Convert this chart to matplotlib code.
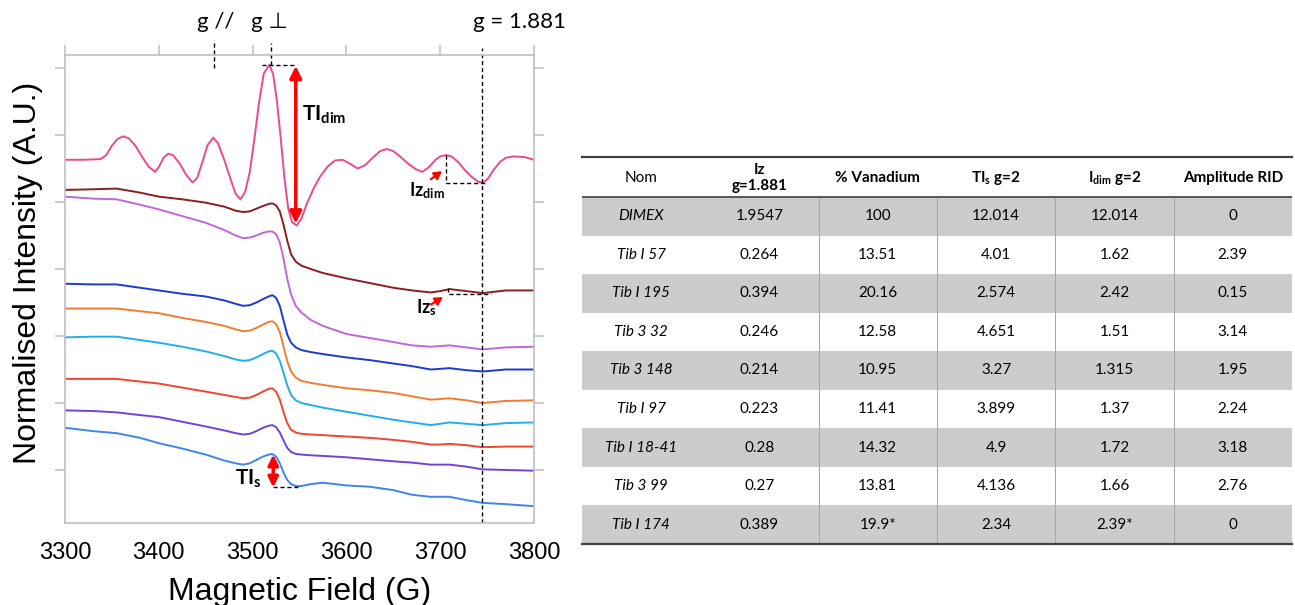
import numpy as np
import matplotlib
matplotlib.use("Agg")
import matplotlib.pyplot as plt
from matplotlib.patches import Rectangle

plt.rcParams['font.family'] = ['Liberation Sans', 'DejaVu Sans']
plt.rcParams['mathtext.fontset'] = 'custom'
plt.rcParams['mathtext.rm'] = 'Lato'
plt.rcParams['mathtext.it'] = 'Lato:italic'
plt.rcParams['mathtext.bf'] = 'Lato:bold'

# ---------------- spectra data ----------------
field = [3300, 3330, 3355, 3380, 3400, 3425, 3450, 3470, 3482, 3490, 3497, 3504, 3511,
         3517, 3521, 3525, 3529, 3533, 3537, 3541, 3546, 3552, 3562, 3575, 3600, 3625,
         3650, 3670, 3690, 3700, 3710, 3728, 3745, 3770, 3800]

brown = [5.18, 5.19, 5.20, 5.14, 5.08, 5.04, 4.99, 4.93, 4.87, 4.85, 4.86, 4.90, 4.94,
         4.97, 4.98, 4.95, 4.86, 4.66, 4.42, 4.22, 4.11, 4.05, 4.00, 3.94, 3.86, 3.79,
         3.72, 3.68, 3.65, 3.67, 3.70, 3.67, 3.64, 3.68, 3.68]
violet = [5.08, 5.05, 5.04, 4.96, 4.89, 4.79, 4.69, 4.58, 4.50, 4.46, 4.47, 4.50, 4.54,
          4.56, 4.56, 4.52, 4.40, 4.15, 3.85, 3.62, 3.45, 3.35, 3.24, 3.15, 3.03, 2.97,
          2.91, 2.86, 2.84, 2.85, 2.86, 2.83, 2.80, 2.83, 2.84]
blue = [3.78, 3.77, 3.77, 3.72, 3.68, 3.63, 3.59, 3.53, 3.48, 3.45, 3.46, 3.50, 3.55,
        3.59, 3.61, 3.57, 3.45, 3.23, 3.02, 2.90, 2.83, 2.79, 2.76, 2.73, 2.68, 2.64,
        2.59, 2.55, 2.50, 2.51, 2.52, 2.49, 2.47, 2.50, 2.50]
orange = [3.41, 3.41, 3.41, 3.37, 3.34, 3.27, 3.21, 3.15, 3.10, 3.07, 3.08, 3.12, 3.17,
          3.21, 3.22, 3.18, 3.06, 2.84, 2.62, 2.47, 2.38, 2.33, 2.30, 2.27, 2.22, 2.19,
          2.15, 2.10, 2.05, 2.06, 2.07, 2.04, 2.00, 2.03, 2.04]
cyan = [2.98, 2.99, 2.99, 2.94, 2.90, 2.84, 2.77, 2.70, 2.65, 2.63, 2.64, 2.68, 2.73,
        2.77, 2.78, 2.74, 2.63, 2.45, 2.26, 2.12, 2.04, 2.00, 1.97, 1.93, 1.87, 1.81,
        1.75, 1.71, 1.67, 1.69, 1.71, 1.69, 1.67, 1.70, 1.71]
red = [2.36, 2.36, 2.36, 2.32, 2.29, 2.23, 2.17, 2.12, 2.09, 2.07, 2.08, 2.12, 2.17,
       2.21, 2.22, 2.17, 2.05, 1.86, 1.70, 1.60, 1.56, 1.54, 1.53, 1.52, 1.50, 1.48,
       1.45, 1.42, 1.38, 1.38, 1.39, 1.37, 1.34, 1.35, 1.35]
purple = [1.89, 1.88, 1.86, 1.82, 1.79, 1.72, 1.65, 1.59, 1.55, 1.53, 1.54, 1.58, 1.63,
          1.66, 1.67, 1.64, 1.56, 1.44, 1.33, 1.27, 1.24, 1.23, 1.22, 1.21, 1.19, 1.16,
          1.13, 1.11, 1.08, 1.08, 1.08, 1.05, 1.01, 1.00, 0.99]
cornflower = [1.63, 1.58, 1.55, 1.48, 1.40, 1.32, 1.23, 1.14, 1.10, 1.08, 1.10, 1.15, 1.20,
              1.23, 1.24, 1.20, 1.10, 0.96, 0.85, 0.79, 0.76, 0.76, 0.79, 0.81, 0.77, 0.75,
              0.70, 0.63, 0.60, 0.60, 0.60, 0.55, 0.51, 0.49, 0.46]

field_dimex = [3300, 3320, 3338, 3344, 3350, 3356, 3362, 3368, 3375, 3382, 3389, 3396,
               3400, 3405, 3410, 3415, 3422, 3429, 3436, 3441, 3447, 3452, 3458, 3463,
               3470, 3477, 3482, 3487, 3492, 3497, 3502, 3507, 3512, 3518, 3522, 3526,
               3530, 3534, 3538, 3542, 3547, 3552, 3558, 3565, 3572, 3580, 3588, 3596,
               3604, 3612, 3620, 3628, 3636, 3643, 3650, 3658, 3666, 3674, 3681, 3688,
               3695, 3700, 3706, 3712, 3719, 3726, 3734, 3741, 3746, 3751, 3757, 3764,
               3770, 3778, 3790, 3800]
dimex = [5.63, 5.63, 5.64, 5.70, 5.84, 5.94, 5.98, 5.95, 5.84, 5.68, 5.53, 5.45,
         5.52, 5.66, 5.72, 5.70, 5.58, 5.41, 5.29, 5.36, 5.62, 5.85, 5.96, 5.88,
         5.62, 5.32, 5.12, 5.04, 5.15, 5.45, 5.95, 6.50, 6.92, 7.05, 6.90, 6.50,
         5.95, 5.35, 4.90, 4.70, 4.65, 4.75, 4.98, 5.20, 5.38, 5.53, 5.62, 5.63,
         5.57, 5.50, 5.55, 5.66, 5.76, 5.79, 5.76, 5.67, 5.57, 5.49, 5.45, 5.52,
         5.63, 5.68, 5.70, 5.68, 5.60, 5.48, 5.37, 5.30, 5.29, 5.35, 5.48, 5.60,
         5.66, 5.68, 5.67, 5.63]

samples = [brown, violet, blue, orange, cyan, red, purple, cornflower]
sample_colors = ['#8B1E1E', '#C066DE', '#1D3BD0', '#F07D32', '#22AEE8', '#F2452D',
                 '#7442D6', '#3D86EC']
dimex_color = '#EC4A8C'

# ---------------- table data ----------------
col_headers = ['Nom', 'Iz\ng=1.881', '% Vanadium', r'$\mathbf{TI}_\mathbf{s}$ g=2',
               r'$\mathbf{I}_\mathbf{dim}$ g=2', 'Amplitude RID']
names = ['DIMEX', 'Tib I 57', 'Tib I 195', 'Tib 3 32', 'Tib 3 148', 'Tib I 97',
         'Tib I 18-41', 'Tib 3 99', 'Tib I 174']
iz = ['1.9547', '0.264', '0.394', '0.246', '0.214', '0.223', '0.28', '0.27', '0.389']
vanadium = ['100', '13.51', '20.16', '12.58', '10.95', '11.41', '14.32', '13.81', '19.9*']
tis = ['12.014', '4.01', '2.574', '4.651', '3.27', '3.899', '4.9', '4.136', '2.34']
idim = ['12.014', '1.62', '2.42', '1.51', '1.315', '1.37', '1.72', '1.66', '2.39*']
amplitude = ['0', '2.39', '0.15', '3.14', '1.95', '2.24', '3.18', '2.76', '0']

W, H = 1295, 605
fig = plt.figure(figsize=(W / 100, H / 100), dpi=100)

# ---------------- spectra panel ----------------
ax = fig.add_axes([65 / W, 1 - 523 / H, (534 - 65) / W, (523 - 55) / H])
ax.plot(field_dimex, dimex, color=dimex_color, lw=1.4)
for vals, col in zip(samples, sample_colors):
    ax.plot(field, vals, color=col, lw=1.4)

ax.set_xlim(3300, 3800)
ax.set_ylim(0.209, 7.194)
ax.set_xticks([3300, 3400, 3500, 3600, 3700, 3800])
ax.set_yticks([1, 2, 3, 4, 5, 6, 7])
for sp in ax.spines.values():
    sp.set_color('#BFBFBF')
    sp.set_linewidth(1.2)
ax.tick_params(axis='y', left=True, right=True, direction='out', length=7,
               color='#BFBFBF', width=1.1, labelleft=False)
ax.tick_params(axis='x', top=True, bottom=False, direction='out', length=7,
               color='#BFBFBF', width=1.1, labelsize=17, pad=7)
ax.set_xlabel('Magnetic Field (G)', fontsize=23, labelpad=9)
ax.set_ylabel('Normalised Intensity (A.U.)', fontsize=23)
ax.yaxis.set_label_coords(-0.046, 0.535)

dash = (0, (3, 2))
# g markers
ax.plot([3745, 3745], [0.209, 7.30], color='black', lw=1, ls=dash, clip_on=False)
ax.plot([3520, 3520], [7.04, 7.37], color='black', lw=1, ls=dash, clip_on=False)
ax.plot([3459, 3459], [7.0, 7.42], color='black', lw=1, ls=dash, clip_on=False)
gfont = ['Lato', 'DejaVu Sans']
ax.text(3461, 7.69, 'g //', ha='center', va='center', fontsize=16, family=gfont)
ax.text(3518, 7.69, 'g \u22a5', ha='center', va='center', fontsize=16, family=gfont)
ax.text(3785, 7.69, 'g = 1.881', ha='center', va='center', fontsize=16, family=gfont)

# TI dim
ax.plot([3510, 3546], [7.05, 7.05], color='black', lw=1, ls=dash, clip_on=False)
ax.annotate('', xy=(3546, 7.03), xytext=(3546, 4.68),
            arrowprops=dict(arrowstyle='<|-|>,head_length=0.7,head_width=0.35',
                            color='#FF0000', lw=2.5, shrinkA=0, shrinkB=0))
ax.text(3553, 6.3, r'$\mathbf{TI}_\mathbf{dim}$', ha='left', va='center', fontsize=15)

# Iz dim
ax.plot([3706, 3706, 3750], [5.70, 5.29, 5.29], color='black', lw=1, ls=dash)
ax.annotate('', xy=(3702, 5.46), xytext=(3690, 5.34),
            arrowprops=dict(arrowstyle='-|>,head_length=0.45,head_width=0.25',
                            color='#FF0000', lw=1.6, shrinkA=0, shrinkB=0))
ax.text(3667, 5.17, r'$\mathbf{Iz}_\mathbf{dim}$', ha='left', va='center', fontsize=13)

# Iz s
ax.plot([3708, 3708, 3754], [3.71, 3.62, 3.62], color='black', lw=1, ls=dash)
ax.annotate('', xy=(3703, 3.58), xytext=(3690, 3.47),
            arrowprops=dict(arrowstyle='-|>,head_length=0.45,head_width=0.25',
                            color='#FF0000', lw=1.6, shrinkA=0, shrinkB=0))
ax.text(3674, 3.43, r'$\mathbf{Iz}_\mathbf{s}$', ha='left', va='center', fontsize=13)

# TI s
ax.plot([3522, 3548], [0.74, 0.74], color='black', lw=1, ls=dash)
ax.annotate('', xy=(3522, 1.23), xytext=(3522, 0.74),
            arrowprops=dict(arrowstyle='<|-|>,head_length=0.6,head_width=0.3',
                            color='#FF0000', lw=2.5, shrinkA=0, shrinkB=0))
ax.text(3510, 0.87, r'$\mathbf{TI}_\mathbf{s}$', ha='right', va='center', fontsize=15)

# ---------------- table ----------------
tx0, tx1, ty0, ty1 = 582, 1292, 157, 544
tab = fig.add_axes([tx0 / W, 1 - ty1 / H, (tx1 - tx0) / W, (ty1 - ty0) / H])
tab.set_xlim(0, 6)
tab.set_ylim(ty1 - ty0, 0)
tab.axis('off')

head_h = 40
row_h = (ty1 - ty0 - head_h) / len(names)
table_font = ['Lato', 'DejaVu Sans']
fs = 11

for j, h in enumerate(col_headers):
    wt = 'normal' if j == 0 else 'bold'
    tab.text(j + 0.5, head_h / 2 + 1, h, ha='center', va='center', fontsize=fs,
             fontweight=wt, family=table_font, linespacing=1.25)

columns = [names, iz, vanadium, tis, idim, amplitude]
for i in range(len(names)):
    top = head_h + i * row_h
    if i % 2 == 0:
        tab.add_patch(Rectangle((0, top), 6, row_h, facecolor='#CCCCCC',
                                edgecolor='none', zorder=0))
    for j, col in enumerate(columns):
        style = 'italic' if j == 0 else 'normal'
        tab.text(j + 0.5, top + row_h / 2, col[i], ha='center', va='center',
                 fontsize=fs, style=style, family=table_font)

for xs in [2, 3, 4, 5]:
    tab.plot([xs, xs], [head_h, ty1 - ty0], color='#A6A6A6', lw=0.7)
tab.plot([0, 6], [0, 0], color='#404040', lw=1.6, clip_on=False)
tab.plot([0, 6], [head_h, head_h], color='#404040', lw=1.2)
tab.plot([0, 6], [ty1 - ty0, ty1 - ty0], color='#404040', lw=1.6, clip_on=False)

fig.savefig('out.png', dpi=100)
